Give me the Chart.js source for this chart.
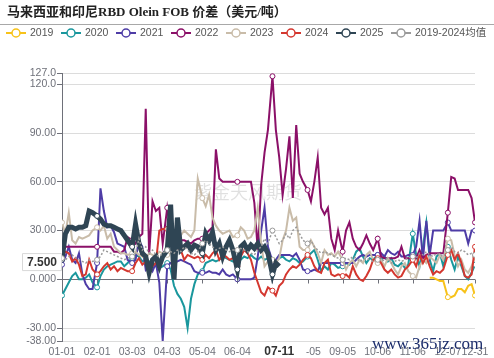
<!DOCTYPE html>
<html><head><meta charset="utf-8">
<script src="https://cdn.jsdelivr.net/npm/chart.js@4/dist/chart.umd.min.js"></script>
<style>html,body{margin:0;padding:0;background:#fff;overflow:hidden}</style>
</head><body>
<canvas id="c" width="494" height="358"></canvas>
<script>
const chartTitle = '马来西亚和印尼RBD Olein FOB 价差（美元/吨）';
const seriesNames = ['2019','2020','2021','2022','2023','2024','2025','2019-2024均值'];
const yTickValues = [-38,-30,0,30,60,90,120,127];
const yTickLabels = ['-38.00','-30.00','0.000','30.00','60.00','90.00','120.0','127.0'];
const labelIdx = [0,31,62,93,124,155,186,217,248,279,310,341,365];
const monthDays = [31,29,31,30,31,30,31,31,30,31,30,31];
const categories = [];
monthDays.forEach((n,m)=>{for(let d=1;d<=n;d++)categories.push(String(m+1).padStart(2,'0')+'-'+String(d).padStart(2,'0'));});
const offsets = [0,3,6,9,12,15,18,21,24,27];
const sampleIdx = [];
for (let b=0;b<12;b++) for (const o of offsets){const d=31*b+o; if(d<=365) sampleIdx.push(d);}

const s2019 = [
null,null,null,null,null,null,null,null,null,null,
null,null,null,null,null,null,null,null,null,null,
null,null,null,null,null,null,null,null,null,null,
null,null,null,null,null,null,null,null,null,null,
null,null,null,null,null,null,null,null,null,null,
null,null,null,null,null,null,null,null,null,null,
null,null,null,null,null,null,null,null,null,null,
null,null,null,null,null,null,null,null,null,null,
null,null,null,null,null,null,null,null,null,null,
null,null,null,null,null,null,null,null,null,null,
null,null,null,null,null,1,1,0,-1,-1,
-11,-11,-10,-6,-6,-8,-4,-3,-10];
const s2020 = [
-10,-6,-2,2,4,0,0,1,3,-2,
-5,2,6,8,9,10,11,11,8,10,
13,15,14,11,12,11,9,8,7,8,
10,6,-4,-9,-12,-17,-30,-12,-3,3,
5,10,11,12,11,12,14,13,12,11,
11,12,14,13,15,13,12,14,12,13,
12,11,13,14,12,11,13,12,10,11,
14,16,18,12,5,8,6,10,9,7,
8,10,9,12,17,19,14,10,13,12,
15,12,14,11,13,9,8,10,7,9,
28,15,8,20,35,12,5,14,16,8,
20,12,6,14,8,2,0,4,9];
const s2021 = [
9,14,20,12,10,16,3,-3,-6,-6,
10,56,42,32,33,29,22,21,20,12,
10,12,24,20,6,9,5,10,-2,-38,
8,10,10,11,12,11,10,9,5,4,
4,4,5,4,4,3,6,3,2,3,
0,0,0,0,0,1,14,30,44,20,
11,12,15,15,15,15,14,16,12,6,
5,5,6,5,10,10,10,10,10,10,
10,10,10,10,12,14,15,14,15,15,
15,16,14,18,16,15,17,14,14,15,
15,20,36,12,36,15,30,30,30,30,
35,30,30,30,30,30,22,30,30];
const s2022 = [
17,20,20,20,20,20,20,20,20,20,
20,20,20,20,20,17,17,16,18,26,
24,22,26,28,105,15,48,42,44,22,
44,30,24,24,24,24,23,22,24,25,
25,28,30,32,80,62,60,60,60,60,
60,60,60,60,60,47,18,58,78,92,
125,92,75,52,68,88,50,95,65,60,
55,48,60,75,44,40,44,25,18,30,
17,30,35,25,20,18,22,27,22,18,
25,14,13,13,13,13,14,20,13,13,
13,13,18,13,15,16,16,16,16,16,
41,63,62,55,55,55,55,50,35];
const s2023 = [
35,28,41,24,22,26,25,26,27,30,
32,30,33,25,28,20,18,16,16,15,
16,17,15,14,13,16,15,14,17,16,
15,16,18,22,27,30,28,26,30,62,
50,45,52,38,33,30,28,29,30,26,
27,32,30,25,26,30,44,22,8,11,
12,10,13,24,30,44,36,38,20,18,
18,24,20,16,10,18,15,16,14,17,
12,6,10,12,8,12,10,15,17,12,
10,12,8,13,10,6,3,8,10,5,
2,1,8,12,10,14,12,10,15,12,
25,24,15,8,12,6,4,8,14];
const s2024 = [
15,17,16,11,13,9,2,3,12,6,
3,5,8,10,6,8,5,7,6,5,
5,10,13,9,11,6,8,10,30,31,
31,30,19,19,18,12,15,14,13,14,
12,15,13,16,18,12,15,14,12,13,
8,14,18,16,12,4,-2,-8,-10,-5,
-7,-10,-4,-2,3,6,8,7,9,12,
15,13,8,5,4,10,12,3,2,3,
2,3,1,8,3,0,-1,2,6,12,
13,10,6,4,6,3,1,2,6,8,
12,8,15,10,14,8,3,5,4,6,
15,18,12,16,10,2,1,3,20];
const s2025 = [
12,28,32,32,31,32,32,33,42,41,
39,37,34,33,33,32,31,30,27,24,
20,34,22,16,14,4,12,14,8,14,
18,46,0,38,18,20,22,18,21,20,
16,28,24,29,18,22,14,20,24,18,
6,20,22,18,21,19,22,18,20,16,
3,10,8];
const sAvg = [
13,12,14,15,13,12,11,10,12,11,
12,14,18,17,16,15,14,13,12,13,
14,16,25,18,20,16,18,15,14,16,
18,17,16,18,17,20,18,16,15,17,
22,24,22,20,18,19,20,18,17,18,
18,19,18,17,16,15,18,20,25,22,
30,26,22,24,28,25,30,32,28,24,
22,24,20,18,16,17,16,15,14,13,
12,13,12,14,13,11,12,13,12,11,
12,11,12,13,10,11,12,11,12,13,
14,13,16,15,17,15,14,16,15,14,
18,20,17,16,18,17,15,16,15];

const seriesValues = [s2019,s2020,s2021,s2022,s2023,s2024,s2025,sAvg];
const colors = ['#f7c21a','#1a979d','#4e3ca6','#8b1068','#c9bca9','#d4372f','#2f4554','#9a9a9a'];
const widths = [2,2,2,2,2,2,5,1.5];

const datasets = seriesValues.map((vals,i)=>({
  label: seriesNames[i],
  data: sampleIdx.map((d,k)=>({x:d, y: k < vals.length ? vals[k] : null})),
  borderColor: colors[i],
  borderWidth: widths[i],
  borderDash: i === 7 ? [2,2] : [],
  backgroundColor: colors[i],
  pointBackgroundColor: '#fff',
  pointBorderColor: colors[i],
  pointBorderWidth: 1,
  pointRadius: c => (c.raw && c.raw.y !== null && labelIdx.includes(c.raw.x)) ? 2.5 : 0,
  pointHoverRadius: 0,
  tension: 0,
  fill: false,
  spanGaps: false,
  order: -i
}));

const deco = {
  id: 'deco',
  beforeDraw(chart) {
    const ctx = chart.ctx;
    ctx.save();
    ctx.fillStyle = '#fff';
    ctx.fillRect(0,0,chart.width,chart.height);
    ctx.fillStyle = '#222';
    ctx.font = 'bold 13px "Liberation Serif", "Noto Sans CJK SC"';
    ctx.textBaseline = 'middle';
    ctx.textAlign = 'left';
    ctx.fillText(chartTitle, 7, 13);
    ctx.strokeStyle = '#a8a8a8';
    ctx.lineWidth = 1;
    ctx.beginPath(); ctx.moveTo(0,24.5); ctx.lineTo(chart.width,24.5); ctx.stroke();
    ctx.font = '10.5px "Liberation Sans", "Noto Sans CJK SC"';
    seriesNames.forEach((n,i)=>{
      const x0 = 6 + i*55, y = 33;
      ctx.strokeStyle = colors[i]; ctx.lineWidth = 2;
      ctx.beginPath(); ctx.moveTo(x0,y); ctx.lineTo(x0+20,y); ctx.stroke();
      ctx.beginPath(); ctx.arc(x0+10,y,4,0,Math.PI*2);
      ctx.fillStyle = '#fff'; ctx.fill();
      ctx.lineWidth = 1.5; ctx.stroke();
      ctx.fillStyle = '#555';
      ctx.fillText(n, x0+24, y+0.5);
    });
    ctx.restore();
  },
  beforeDatasetsDraw(chart) {
    const ctx = chart.ctx, xs = chart.scales.x, ys = chart.scales.y;
    ctx.save();
    ctx.fillStyle = 'rgba(0,0,0,0.12)';
    ctx.font = '18px "Noto Sans CJK SC"';
    ctx.textAlign = 'center'; ctx.textBaseline = 'middle';
    ctx.fillText('紫金天风期货', 248, 192);
    const y0 = Math.round(ys.getPixelForValue(0)) + 0.5;
    ctx.strokeStyle = '#6e7079'; ctx.lineWidth = 1;
    labelIdx.forEach(v=>{
      const x = Math.round(xs.getPixelForValue(v)) + 0.5;
      ctx.beginPath(); ctx.moveTo(x,y0); ctx.lineTo(x,y0+4); ctx.stroke();
    });
    ctx.restore();
  },
  afterDraw(chart) {
    const ctx = chart.ctx, xs = chart.scales.x, ys = chart.scales.y;
    ctx.save();
    // axis pointer labels
    const px = xs.getPixelForValue(192);
    ctx.fillStyle = '#fff';
    ctx.fillRect(px-27, 343, 54, 15);
    ctx.fillStyle = '#333';
    ctx.font = 'bold 12px "Liberation Sans"';
    ctx.textAlign = 'center'; ctx.textBaseline = 'middle';
    ctx.fillText(categories[192], px, 352);
    const py = ys.getPixelForValue(7.5) - 5;
    ctx.fillStyle = '#fff';
    ctx.strokeStyle = '#d8d8d8';
    ctx.beginPath(); ctx.rect(22.5, py-8.5, 39, 17); ctx.fill(); ctx.stroke();
    ctx.fillStyle = '#333';
    ctx.fillText('7.500', 42, py+0.5);
    // site watermark
    ctx.fillStyle = '#1b2c6b';
    ctx.font = '17px "Liberation Serif"';
    ctx.textAlign = 'left'; ctx.textBaseline = 'alphabetic';
    ctx.fillText('www.365jz.com', 372, 349);
    ctx.restore();
  }
};

const tickFont = { family: '"Liberation Sans", "Noto Sans CJK SC"', size: 10.5 };
new Chart(document.getElementById('c'), {
  type: 'line',
  data: { datasets },
  options: {
    responsive: false, animation: false, events: [],
    layout: { padding: { top: 73, right: 19, left: 0, bottom: 0 } },
    plugins: { legend: { display: false }, tooltip: { enabled: false }, title: { display: false } },
    scales: {
      x: {
        type: 'linear', min: 0, max: 365,
        grid: { display: false, drawTicks: false },
        border: { display: false },
        afterBuildTicks: s => { s.ticks = labelIdx.map(v => ({ value: v })); },
        afterFit: s => { s.height = 17; },
        ticks: { autoSkip: false, maxRotation: 0, minRotation: 0, padding: 5, color: '#6e7079', font: tickFont,
          callback: v => categories[v] }
      },
      y: {
        min: -38, max: 127,
        afterBuildTicks: s => { s.ticks = yTickValues.map(v => ({ value: v })); },
        afterFit: s => { s.width = 62; },
        grid: { color: c => (c.tick && c.tick.value === 0) ? '#6e7079' : '#dcdcdc', tickColor: '#6e7079', tickLength: 5, drawTicks: true },
        border: { display: true, color: '#6e7079' },
        ticks: { padding: 1, color: '#6e7079', font: tickFont,
          callback: v => yTickLabels[yTickValues.indexOf(v)] }
      }
    }
  },
  plugins: [deco]
});
</script>
</body></html>
